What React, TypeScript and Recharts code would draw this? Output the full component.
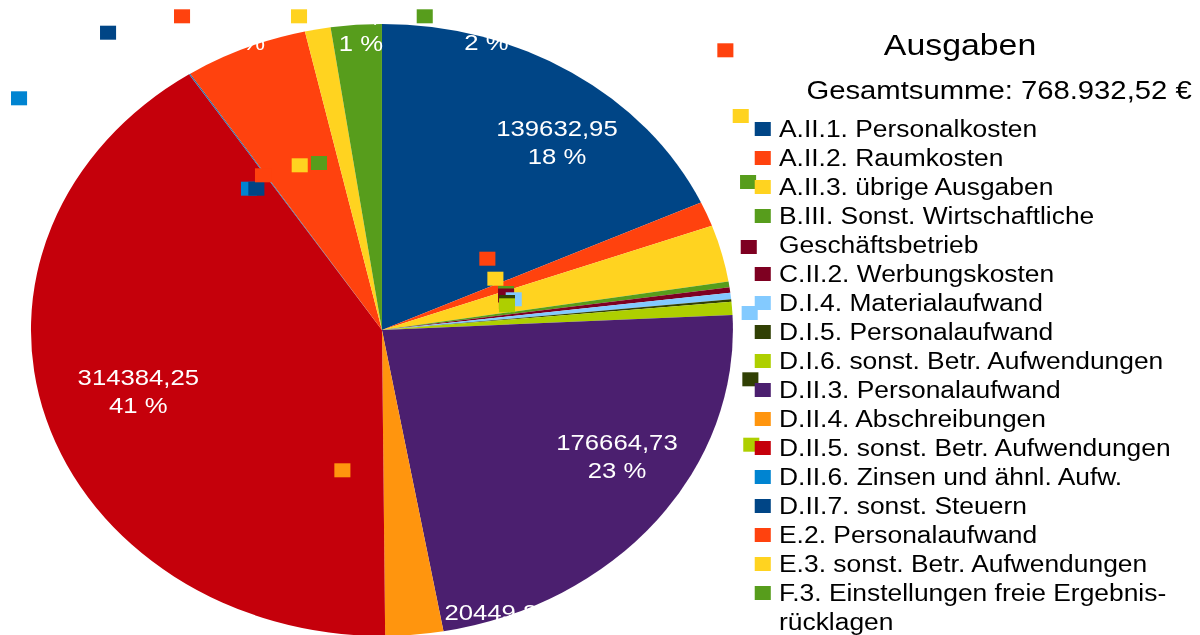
import { PieChart, Pie, Cell, Legend } from 'recharts';

// the reference is a circular pie that was stretched sideways, so the chart is
// drawn in a narrower box and scaled horizontally afterwards
const STRETCH = 1.147;
const INNER_W = 1046;
const HEIGHT = 635;
const FONT = "'Liberation Sans', Arial, sans-serif";

const title = 'Ausgaben';
const totalLabel = 'Gesamtsumme: 768.932,52 €';

const categories = [
  'A.II.1. Personalkosten',
  'A.II.2. Raumkosten',
  'A.II.3. übrige Ausgaben',
  'B.III. Sonst. Wirtschaftliche\nGeschäftsbetrieb',
  'C.II.2. Werbungskosten',
  'D.I.4. Materialaufwand',
  'D.I.5. Personalaufwand',
  'D.I.6. sonst. Betr. Aufwendungen',
  'D.II.3. Personalaufwand',
  'D.II.4. Abschreibungen',
  'D.II.5. sonst. Betr. Aufwendungen',
  'D.II.6. Zinsen und ähnl. Aufw.',
  'D.II.7. sonst. Steuern',
  'E.2. Personalaufwand',
  'E.3. sonst. Betr. Aufwendungen',
  'F.3. Einstellungen freie Ergebnis-\nrücklagen',
];

const amounts = [
  139632.95, 10094.18, 23071.52, 2281.7, 2175.0, 2655.35, 958.4, 5362.85,
  176664.73, 20449.83, 314384.25, 180.0, 310.0, 43624.3, 9102.46, 17985.0,
];

const colors = [
  '#004586', '#ff420e', '#ffd320', '#579d1c', '#7e0021', '#83caff', '#314004', '#aecf00',
  '#4b1f6f', '#ff950e', '#c5000b', '#0084d1', '#004586', '#ff420e', '#ffd320', '#579d1c',
];

// where LibreOffice left the label texts (value line centre, relative to the pie centre)
const labelText: ([number, number] | null)[] = [
  [152.6, -202], null, null, null, null, null, null, null,
  [204.9, 112], [101.2, 282.5], [-212.4, 46.7], null, null,
  [-121.2, -316], [-18.3, -315.5], [91.1, -316],
];

// the stray legend keys of the data labels (top-left, relative to the pie centre)
const labelKeys: [number, number][][] = [
  [],
  [[84.9, -78.3], [292.4, -286.7]],
  [[91.9, -58.3], [305.8, -221]],
  [[101.2, -44], [312.2, -155]],
  [[101.2, -41.5], [312.8, -90]],
  [[107.9, -37.7], [313.6, -24]],
  [[102, -35], [314.2, 42.3]],
  [[102, -31.7], [315, 107.7]],
  [],
  [[-41.5, 133.3]],
  [],
  [[-122.9, -148.3], [-323.4, -238.7]],
  [[-116.5, -148.3], [-245.8, -304.3]],
  [[-110.7, -161.7], [-181.3, -320.7]],
  [[-78.7, -171.7], [-79.3, -320.7]],
  [[-61.9, -174], [30.3, -320.7]],
];

const pieData = categories.map((name, i) => ({ name, value: amounts[i] }));

const formatValue = (v: number) => v.toFixed(2).replace('.', ',');

const renderLabel = (props: any) => {
  const { cx, cy, index, value, percent } = props;
  const spot = labelText[index];
  const keys = labelKeys[index] || [];
  return (
    <g key={`label-${index}`}>
      {spot && (
        <text x={cx + spot[0]} y={cy + spot[1] + 8} fill="#ffffff" textAnchor="middle" fontSize={22.4} fontFamily={FONT}>
          {formatValue(value)}
        </text>
      )}
      {spot && (
        <text x={cx + spot[0]} y={cy + spot[1] + 28.5 + 8} fill="#ffffff" textAnchor="middle" fontSize={22.4} fontFamily={FONT}>
          {`${Math.round(percent * 100)} %`}
        </text>
      )}
      {keys.map(([dx, dy], k) => (
        <rect key={k} x={cx + dx} y={cy + dy} width={14} height={14} fill={colors[index]} />
      ))}
    </g>
  );
};

const LegendBox = () => (
  <div style={{ position: 'relative', width: 396, height: HEIGHT, fontFamily: FONT, color: '#000' }}>
    <div style={{ position: 'absolute', left: 0, top: 27.8, width: 374, textAlign: 'center', fontSize: 29.5, lineHeight: '34px' }}>
      {title}
    </div>
    <div style={{ position: 'absolute', left: -29, top: 75, width: 500, textAlign: 'center', fontSize: 25.5, lineHeight: '30px', whiteSpace: 'nowrap' }}>
      {totalLabel}
    </div>
    <div style={{ position: 'absolute', left: 8, top: 114.7 }}>
      {categories.map((name, i) => (
        <div key={name} style={{ display: 'flex', alignItems: 'flex-start' }}>
          <div style={{ width: 14, height: 14, background: colors[i], marginTop: 7.6, marginRight: 7.2, flexShrink: 0 }} />
          <div style={{ fontSize: 23, lineHeight: '29px', whiteSpace: 'pre' }}>{name}</div>
        </div>
      ))}
    </div>
  </div>
);

export default function App() {
  return (
    <div style={{ position: 'absolute', left: 0, top: 0, width: 1200, height: HEIGHT, overflow: 'hidden', background: '#fff' }}>
      <div style={{ width: INNER_W, height: HEIGHT, transform: `scaleX(${STRETCH})`, transformOrigin: '0 0' }}>
        <PieChart width={INNER_W} height={HEIGHT} margin={{ top: 0, right: 0, bottom: 0, left: 0 }}>
          <Pie
            data={pieData}
            dataKey="value"
            nameKey="name"
            cx={333}
            cy={330}
            outerRadius={306}
            startAngle={90}
            endAngle={-270}
            stroke="none"
            label={renderLabel}
            labelLine={false}
            isAnimationActive={false}
          >
            {pieData.map((entry, i) => (
              <Cell key={entry.name} fill={colors[i]} stroke="none" />
            ))}
          </Pie>
          <Legend
            layout="vertical"
            align="center"
            verticalAlign="middle"
            content={() => <LegendBox />}
            wrapperStyle={{ left: 650, top: 0, width: 396, height: HEIGHT }}
          />
        </PieChart>
      </div>
    </div>
  );
}
